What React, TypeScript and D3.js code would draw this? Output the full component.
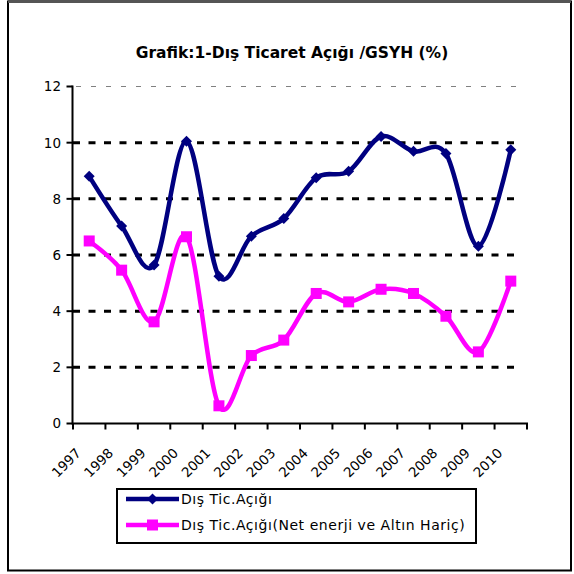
import React from 'react';
import * as d3 from 'd3';

const years = ['1997','1998','1999','2000','2001','2002','2003','2004','2005','2006','2007','2008','2009','2010'];
const disTicAcigi = [8.8, 7.03, 5.64, 10.05, 5.24, 6.67, 7.3, 8.75, 8.98, 10.22, 9.69, 9.61, 6.31, 9.75];
const netEnerjiAltinHaric = [6.5, 5.46, 3.62, 6.65, 0.63, 2.42, 2.97, 4.63, 4.33, 4.78, 4.63, 3.82, 2.55, 5.07];
const yTicks = [0, 2, 4, 6, 8, 10, 12];
const title = 'Grafik:1-Dış Ticaret Açığı /GSYH (%)';
const seriesNames = ['Dış Tic.Açığı', 'Dış Tic.Açığı(Net enerji ve Altın Hariç)'];

const FONT = '"DejaVu Sans", sans-serif';

export default function App() {
  const W = 574, H = 574;
  const x = d3.scaleBand<string>().domain(years).range([73, 527]);
  const y = d3.scaleLinear().domain([0, 12]).range([423.5, 86.5]);
  const cx = (d: string) => (x(d) as number) + x.bandwidth() / 2;
  const line = d3.line<number>()
    .x((_, i) => cx(years[i]))
    .y((v) => y(v))
    .curve(d3.curveCardinal.tension(0));
  const blue = '#000080';
  const pink = '#FF00FF';
  const diamond = (px: number, py: number, r: number) =>
    `M${px},${py - r}L${px + r},${py}L${px},${py + r}L${px - r},${py}Z`;
  const tickXs = years.map((d) => x(d) as number).concat([527]);

  return (
    <svg width={W} height={H} style={{ position: 'absolute', left: 0, top: 0, background: '#fff' }}
      fontFamily={FONT}>
      <rect x={0} y={0} width={W} height={H} fill="#fff" />
      <rect x={8} y={1.5} width={563} height={569} fill="none" stroke="#000" strokeWidth={2} />
      <line x1={8} x2={571} y1={1.5} y2={1.5} stroke="#555" strokeWidth={3} />
      <text x={292} y={58} textAnchor="middle" fontSize={15.5} fontWeight="bold" fill="#000">{title}</text>

      {/* gridlines */}
      {yTicks.filter((t) => t > 0).map((t) => (
        t === 12 ? (
          <line key={t} x1={76} x2={522} y1={y(t)} y2={y(t)} stroke="#808080" strokeWidth={1}
            strokeDasharray="5 10" />
        ) : (
          <line key={t} x1={73} x2={522} y1={y(t)} y2={y(t)} stroke="#000" strokeWidth={3}
            strokeDasharray="7 8.5" />
        )
      ))}

      {/* y axis */}
      <line x1={72.5} x2={72.5} y1={y(12) - 1} y2={y(0) + 1} stroke="#000" strokeWidth={2} />
      {yTicks.map((t) => (
        <g key={t}>
          <line x1={66.5} x2={72.5} y1={y(t)} y2={y(t)} stroke="#000" strokeWidth={2} />
          <text x={61} y={y(t)} dy="0.36em" textAnchor="end" fontSize={13.5} fill="#000">{t}</text>
        </g>
      ))}

      {/* x axis */}
      <line x1={72} x2={528} y1={y(0)} y2={y(0)} stroke="#000" strokeWidth={2} />
      {tickXs.map((tx, i) => (
        <line key={i} x1={tx} x2={tx} y1={y(0)} y2={y(0) + 6} stroke="#000" strokeWidth={2} />
      ))}
      {years.map((d) => (
        <text key={d} transform={`translate(${cx(d) - 7.5},${454}) rotate(-45)`} textAnchor="end"
          fontSize={13.5} fill="#000">{d}</text>
      ))}

      {/* series */}
      <path d={line(disTicAcigi) as string} fill="none" stroke={blue} strokeWidth={4.5} strokeLinejoin="round" />
      {disTicAcigi.map((v, i) => (
        <path key={i} d={diamond(cx(years[i]), y(v), 5.5)} fill={blue} />
      ))}
      <path d={line(netEnerjiAltinHaric) as string} fill="none" stroke={pink} strokeWidth={4.5} strokeLinejoin="round" />
      {netEnerjiAltinHaric.map((v, i) => (
        <rect key={i} x={cx(years[i]) - 5.5} y={y(v) - 5.5} width={11} height={11} fill={pink} />
      ))}

      {/* legend */}
      <rect x={117} y={489} width={359} height={54} fill="#fff" stroke="#000" strokeWidth={2} />
      <line x1={126} x2={179} y1={499} y2={499} stroke={blue} strokeWidth={4.5} />
      <path d={diamond(152.5, 499, 5.5)} fill={blue} />
      <text x={181} y={499} dy="0.36em" fontSize={14} letterSpacing={0.55} fill="#000">{seriesNames[0]}</text>
      <line x1={126} x2={179} y1={525} y2={525} stroke={pink} strokeWidth={4.5} />
      <rect x={147} y={519.5} width={11} height={11} fill={pink} />
      <text x={181} y={525} dy="0.36em" fontSize={14} letterSpacing={0.55} fill="#000">{seriesNames[1]}</text>
    </svg>
  );
}
